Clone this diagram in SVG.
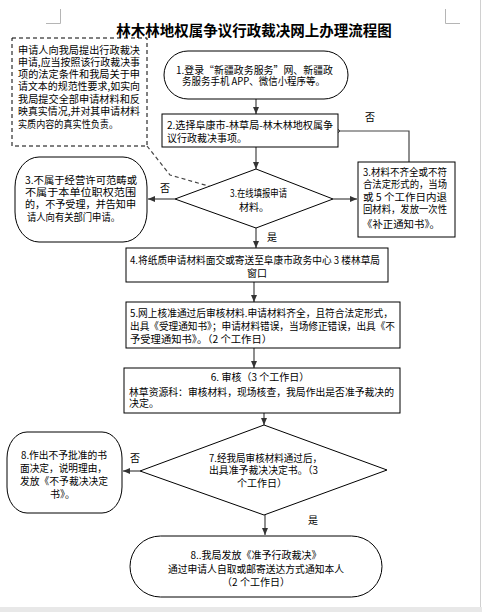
<svg xmlns="http://www.w3.org/2000/svg" width="482" height="612" viewBox="0 0 482 612">
<style>
text{font-family:"Noto Sans CJK SC","Liberation Sans",sans-serif;font-size:10px;fill:#000}
.title{font-size:14.5px;font-weight:bold}
.box{fill:#fff;stroke:#000;stroke-width:1}
.conn{fill:none;stroke:#444;stroke-width:1.2}
.c{text-anchor:middle}
</style>
<defs>
<marker id="ah" markerWidth="8" markerHeight="8" refX="7" refY="4" orient="auto" markerUnits="userSpaceOnUse">
<path d="M0,1 L7,4 L0,7 Z" fill="#333"/>
</marker>
<marker id="oh" markerWidth="8" markerHeight="10" refX="1" refY="5" orient="auto" markerUnits="userSpaceOnUse">
<path d="M6,1 L1,5 L6,9" fill="none" stroke="#333" stroke-width="1"/>
</marker>
</defs>
<rect x="0" y="0" width="482" height="612" fill="#fff"/>
<rect x="0" y="607" width="482" height="5" fill="#e8e8e8"/>
<line x1="480.5" y1="0" x2="480.5" y2="607" stroke="#d0d0d0" stroke-width="1"/>
<path d="M60.5,9 V23.5 H46" fill="none" stroke="#b5b5b5" stroke-width="1"/>
<path d="M445.5,9 V23.5 H460" fill="none" stroke="#b5b5b5" stroke-width="1"/>
<text class="title c" x="254" y="36">林木林地权属争议行政裁决网上办理流程图</text>

<g id="connectors">
<path class="conn" d="M147,146 L170,175 L212,187" stroke-dasharray="4,3"/>
<line class="conn" x1="256" y1="99" x2="256" y2="114" marker-end="url(#ah)"/>
<line class="conn" x1="256" y1="147" x2="256" y2="169" marker-end="url(#ah)"/>
<path class="conn" d="M409,162 V131 H340" marker-end="url(#oh)"/>
<line class="conn" x1="175" y1="199" x2="148" y2="199" marker-end="url(#ah)"/>
<line class="conn" x1="333" y1="199" x2="357" y2="199" marker-end="url(#ah)"/>
<line class="conn" x1="256" y1="228" x2="256" y2="248" marker-end="url(#ah)"/>
<line class="conn" x1="254" y1="282" x2="254" y2="302" stroke-width="1.8" stroke="#666" marker-end="url(#ah)"/>
<line class="conn" x1="254" y1="348" x2="254" y2="368" marker-end="url(#ah)"/>
<line class="conn" x1="264" y1="413" x2="264" y2="425" marker-end="url(#ah)"/>
<line class="conn" x1="140" y1="471" x2="123" y2="471" stroke-width="1.8" stroke="#666" marker-end="url(#ah)"/>
<line class="conn" x1="265" y1="515" x2="265" y2="535" marker-end="url(#ah)"/>
<text x="365" y="121">否</text>
<text x="160" y="192">否</text>
<text x="267" y="241">是</text>
<text x="130" y="462">否</text>
<text x="308" y="524">是</text>
</g>

<g id="note">
<rect x="12" y="38" width="135" height="108" fill="#fff" stroke="#000" stroke-width="1" stroke-dasharray="4,3"/>
<text x="18" y="53.5" textLength="122" lengthAdjust="spacingAndGlyphs">申请人向我局提出行政裁决</text>
<text x="18" y="65.5" textLength="122" lengthAdjust="spacingAndGlyphs">申请,应当按照该行政裁决事</text>
<text x="18" y="77.5" textLength="122" lengthAdjust="spacingAndGlyphs">项的法定条件和我局关于申</text>
<text x="18" y="90" textLength="122" lengthAdjust="spacingAndGlyphs">请文本的规范性要求,如实向</text>
<text x="18" y="102.5" textLength="122" lengthAdjust="spacingAndGlyphs">我局提交全部申请材料和反</text>
<text x="18" y="115" textLength="122" lengthAdjust="spacingAndGlyphs">映真实情况,并对其申请材料</text>
<text x="18" y="128" textLength="100" lengthAdjust="spacingAndGlyphs">实质内容的真实性负责。</text>
</g>

<g id="n1">
<rect class="box" x="164" y="51" width="184" height="48" rx="24" ry="24"/>
<text x="176" y="73.5" textLength="157" lengthAdjust="spacingAndGlyphs">1.登录“新疆政务服务”网、新疆政</text>
<text x="182" y="85" textLength="143" lengthAdjust="spacingAndGlyphs">务服务手机 APP、微信小程序等。</text>
</g>

<g id="n2">
<rect class="box" x="162" y="114" width="176" height="33"/>
<text x="167" y="128.5" textLength="166" lengthAdjust="spacingAndGlyphs">2.选择阜康市-林草局-林木林地权属争</text>
<text x="167" y="141.5" textLength="80" lengthAdjust="spacingAndGlyphs">议行政裁决事项。</text>
</g>

<g id="n3">
<path class="box" d="M256,169 L333,199 L256,228 L175,199 Z"/>
<text x="230" y="196.5" textLength="57" lengthAdjust="spacingAndGlyphs">3.在线填报申请</text>
<text x="239" y="210.5">材料。</text>
</g>

<g id="n3no">
<rect class="box" x="15" y="157" width="132" height="85" rx="24" ry="30"/>
<text x="25" y="183.5" textLength="112" lengthAdjust="spacingAndGlyphs">3.不属于经营许可范畴或</text>
<text x="25" y="195.5" textLength="111" lengthAdjust="spacingAndGlyphs">不属于本单位职权范围</text>
<text x="25" y="207.5" textLength="111" lengthAdjust="spacingAndGlyphs">的，不予受理，并告知申</text>
<text x="27" y="220.5" textLength="93" lengthAdjust="spacingAndGlyphs">请人向有关部门申请。</text>
</g>

<g id="n3r">
<rect class="box" x="358" y="162" width="97" height="75"/>
<text x="363" y="175.5" textLength="84" lengthAdjust="spacingAndGlyphs">3.材料不齐全或不符</text>
<text x="363" y="188" textLength="84" lengthAdjust="spacingAndGlyphs">合法定形式的，当场</text>
<text x="363" y="200.5" textLength="84" lengthAdjust="spacingAndGlyphs">或 5 个工作日内退</text>
<text x="363" y="213" textLength="84" lengthAdjust="spacingAndGlyphs">回材料，发放一次性</text>
<text x="362" y="228" textLength="78" lengthAdjust="spacingAndGlyphs">《补正通知书》。</text>
</g>

<g id="n4">
<rect class="box" x="126" y="248" width="262" height="34"/>
<text x="130" y="263.5" textLength="250" lengthAdjust="spacingAndGlyphs">4.将纸质申请材料面交或寄送至阜康市政务中心 3 楼林草局</text>
<text class="c" x="257" y="276.5">窗口</text>
</g>

<g id="n5">
<rect class="box" x="126" y="302" width="274" height="46"/>
<text x="130" y="316.5" textLength="263" lengthAdjust="spacingAndGlyphs">5.网上核准通过后审核材料.申请材料齐全，且符合法定形式，</text>
<text x="130" y="329.5" textLength="265" lengthAdjust="spacingAndGlyphs">出具《受理通知书》；申请材料错误，当场修正错误，出具《不</text>
<text x="130" y="342.5" textLength="142" lengthAdjust="spacingAndGlyphs">予受理通知书》。（2 个工作日）</text>
</g>

<g id="n6">
<rect class="box" x="124" y="368" width="276" height="45"/>
<text class="c" x="260" y="380.5">6. 审核（3 个工作日）</text>
<text x="129" y="395.5" textLength="265" lengthAdjust="spacingAndGlyphs">林草资源科：审核材料，现场核查，我局作出是否准予裁决的</text>
<text x="129" y="407">决定。</text>
</g>

<g id="n7">
<path class="box" d="M264,425 L387,470 L264,515 L140,471 Z"/>
<text x="209" y="461.5" textLength="113" lengthAdjust="spacingAndGlyphs">7.经我局审核材料通过后，</text>
<text x="209" y="473.5" textLength="109" lengthAdjust="spacingAndGlyphs">出具准予裁决决定书。（3</text>
<text class="c" x="262" y="486.5">个工作日）</text>
</g>

<g id="n8no">
<rect class="box" x="7" y="432" width="115" height="81" rx="20" ry="26"/>
<text x="21" y="458.5" textLength="86" lengthAdjust="spacingAndGlyphs">8.作出不予批准的书</text>
<text x="20" y="471.5" textLength="87" lengthAdjust="spacingAndGlyphs">面决定，说明理由，</text>
<text x="20" y="484.5" textLength="88" lengthAdjust="spacingAndGlyphs">发放《不予裁决决定</text>
<text x="50" y="497.5">书》。</text>
</g>

<g id="n8">
<rect class="box" x="130" y="536" width="252" height="61" rx="30.5" ry="30.5"/>
<text class="c" x="256" y="558.5">8..我局发放《准予行政裁决》</text>
<text class="c" x="256" y="572.5" textLength="176" lengthAdjust="spacingAndGlyphs">通过申请人自取或邮寄送达方式通知本人</text>
<text class="c" x="256" y="585.5">（2 个工作日）</text>
</g>
</svg>
